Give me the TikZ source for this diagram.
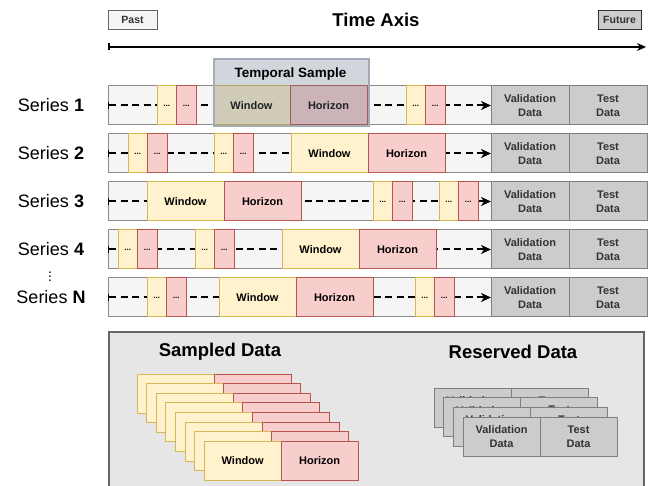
\documentclass[tikz,border=0pt]{standalone}
\usepackage{fontspec}
\setmainfont{Liberation Sans}
\usepackage{tikz}
\usetikzlibrary{positioning, arrows.meta}
\definecolor{winfill}{HTML}{FFF2CC}
\definecolor{winline}{HTML}{D6B656}
\definecolor{horfill}{HTML}{F8CECC}
\definecolor{horline}{HTML}{B85450}
\definecolor{valfill}{HTML}{CCCCCC}
\definecolor{valline}{HTML}{7F7F7F}
\definecolor{rowfill}{HTML}{F5F5F5}
\definecolor{rowline}{HTML}{8C8C8C}
\definecolor{tsfill}{HTML}{647687}
\definecolor{tsline}{HTML}{A2ACB6}
\definecolor{panelfill}{HTML}{E6E6E6}
\definecolor{panelline}{HTML}{666666}
\tikzstyle{dasharrow} = [line width=2pt, dash pattern=on 7pt off 4.5pt, {Bar[width=7pt,line width=1.4pt]}-{Stealth[length=10pt,width=9pt,inset=3pt]}]
\tikzstyle{axisarrow} = [line width=1.5pt, {Bar[width=7pt]}-{Stealth[length=9pt,width=8pt]}]

\begin{document}
\begin{tikzpicture}[
    x=1pt, y=-1pt,
    box/.style={draw, minimum height=39pt, inner sep=0pt, outer sep=0pt, line width=1pt, font=\fontsize{11}{14}\selectfont\bfseries},
    win/.style={box, fill=winfill, draw=winline, minimum width=77pt},
    hor/.style={box, fill=horfill, draw=horline, minimum width=77pt},
    dotw/.style={box, fill=winfill, draw=winline, minimum width=19.5pt, font=\fontsize{8}{8}\selectfont\bfseries},
    doth/.style={box, fill=horfill, draw=horline, minimum width=19.5pt, font=\fontsize{8}{8}\selectfont\bfseries},
    val/.style={box, fill=valfill, draw=valline, minimum width=78pt, align=center, text=black!80},
    rowbg/.style={draw=rowline, fill=rowfill, line width=1pt, minimum width=383pt, minimum height=39pt, anchor=west, inner sep=0pt, outer sep=0pt},
    series/.style={inner sep=0pt, font=\fontsize{18}{20}\selectfont},
    title/.style={font=\fontsize{18.5}{22}\selectfont\bfseries},
    tag/.style={draw, line width=1pt, minimum height=19pt, inner sep=0pt, font=\fontsize{10.5}{12}\selectfont\bfseries, text=black!80}
  ]

  \clip (0,0) rectangle (656,486);

  \node[tag, fill=rowfill, draw=panelline, minimum width=49pt] (past) at (132.5,20) {Past};
  \node[tag, fill=valfill, draw=black!80, minimum width=43pt] (future) at (619.5,20) {Future};
  \node[title] (axis) at (376,20) {Time Axis};
  \coordinate (ax0) at (108,47);
  \coordinate (ax1) at (646,47);
  \draw[axisarrow] (ax0) -- (ax1);

  \node[series] (l1) at (51,105.5) {Series \textbf{1}};
  \node[series] (l2) at (51,153.5) {Series \textbf{2}};
  \node[series] (l3) at (51,201.5) {Series \textbf{3}};
  \node[series] (l4) at (51,249.5) {Series \textbf{4}};
  \node[inner sep=0pt, font=\fontsize{10}{10}\selectfont\bfseries] (lv) at (50,274) {$\vdots$};
  \node[series] (ln) at (51,297.5) {Series \textbf{N}};

  % series 1
  \node[rowbg] (bg1) at (108,105.5) {};
  \node[val, anchor=west] (v1) at (bg1.east) {Validation\\Data};
  \node[val, right=0pt of v1] (t1) {Test\\Data};
  \draw[dasharrow] (bg1.west) -- (v1.west);
  \node[dotw, anchor=west] (a1) at (157,105.5) {...};
  \node[doth, right=0pt of a1] (b1) {...};
  \node[win, anchor=west] (w1) at (213,105.5) {Window};
  \node[hor, right=0pt of w1] (h1) {Horizon};
  \node[dotw, anchor=west] (c1) at (406,105.5) {...};
  \node[doth, right=0pt of c1] (d1) {...};
  \node[draw=tsline, line width=2pt, fill=tsfill, fill opacity=0.3, minimum width=155pt, minimum height=67pt, inner sep=0pt, anchor=north west] (ts) at (213,58) {};
  \node[font=\fontsize{13.5}{15}\selectfont\bfseries] (tslbl) at (290.5,74) {Temporal Sample};

  % series 2
  \node[rowbg] (bg2) at (108,153.5) {};
  \node[val, anchor=west] (v2) at (bg2.east) {Validation\\Data};
  \node[val, right=0pt of v2] (t2) {Test\\Data};
  \draw[dasharrow] (bg2.west) -- (v2.west);
  \node[dotw, anchor=west] (a2) at (128,153.5) {...};
  \node[doth, right=0pt of a2] (b2) {...};
  \node[dotw, anchor=west] (c2) at (214,153.5) {...};
  \node[doth, right=0pt of c2] (d2) {...};
  \node[win, anchor=west] (w2) at (291,153.5) {Window};
  \node[hor, right=0pt of w2] (h2) {Horizon};

  % series 3
  \node[rowbg] (bg3) at (108,201.5) {};
  \node[val, anchor=west] (v3) at (bg3.east) {Validation\\Data};
  \node[val, right=0pt of v3] (t3) {Test\\Data};
  \draw[dasharrow] (bg3.west) -- (v3.west);
  \node[win, anchor=west] (w3) at (147,201.5) {Window};
  \node[hor, right=0pt of w3] (h3) {Horizon};
  \node[dotw, anchor=west] (a3) at (373,201.5) {...};
  \node[doth, right=0pt of a3] (b3) {...};
  \node[dotw, anchor=west] (c3) at (439,201.5) {...};
  \node[doth, right=0pt of c3] (d3) {...};

  % series 4
  \node[rowbg] (bg4) at (108,249.5) {};
  \node[val, anchor=west] (v4) at (bg4.east) {Validation\\Data};
  \node[val, right=0pt of v4] (t4) {Test\\Data};
  \draw[dasharrow] (bg4.west) -- (v4.west);
  \node[dotw, anchor=west] (a4) at (118,249.5) {...};
  \node[doth, right=0pt of a4] (b4) {...};
  \node[dotw, anchor=west] (c4) at (195,249.5) {...};
  \node[doth, right=0pt of c4] (d4) {...};
  \node[win, anchor=west] (w4) at (282,249.5) {Window};
  \node[hor, right=0pt of w4] (h4) {Horizon};

  % series N
  \node[rowbg] (bgn) at (108,297.5) {};
  \node[val, anchor=west] (vn) at (bgn.east) {Validation\\Data};
  \node[val, right=0pt of vn] (tn) {Test\\Data};
  \draw[dasharrow] (bgn.west) -- (vn.west);
  \node[dotw, anchor=west] (an) at (147,297.5) {...};
  \node[doth, right=0pt of an] (bn) {...};
  \node[win, anchor=west] (wn) at (219,297.5) {Window};
  \node[hor, right=0pt of wn] (hn) {Horizon};
  \node[dotw, anchor=west] (cn) at (415,297.5) {...};
  \node[doth, right=0pt of cn] (dn) {...};

  % sampled and reserved data
  \node[draw=panelline, fill=panelfill, line width=2pt, minimum width=535pt, minimum height=180pt, inner sep=0pt, anchor=north west] (panel) at (108,331) {};
  \node[title] (sampled) at (220,352) {Sampled Data};
  \node[title] (reserved) at (513,352) {Reserved Data};

  \foreach \i in {0,...,7} {
    \node[win, anchor=north west] (sw\i) at ({137+9.6*\i},{374+9.6*\i}) {Window};
    \node[hor, right=0pt of sw\i] (sh\i) {Horizon};
  }
  \foreach \i in {0,...,3} {
    \node[val, minimum width=77pt, anchor=north west] (rv\i) at ({434+9.7*\i},{388+9.7*\i}) {Validation\\Data};
    \node[val, minimum width=77pt, right=0pt of rv\i] (rt\i) {Test\\Data};
  }

\end{tikzpicture}
\end{document}
